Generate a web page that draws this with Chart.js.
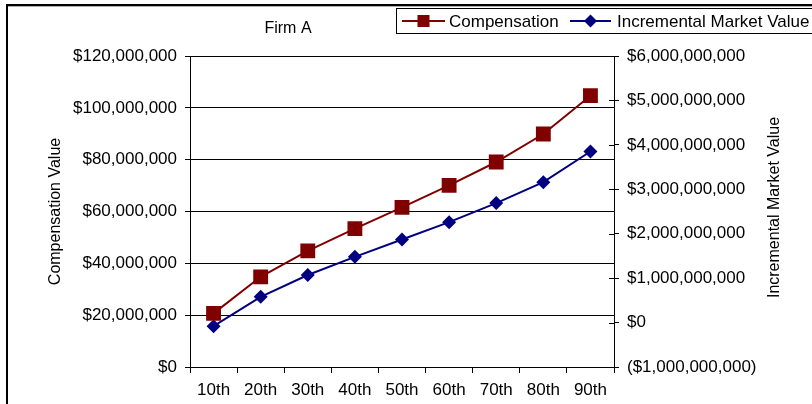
<!DOCTYPE html>
<html>
<head>
<meta charset="utf-8">
<script src="https://cdn.jsdelivr.net/npm/chart.js@4.4.1/dist/chart.umd.min.js"></script>
<style>
  html, body { margin: 0; padding: 0; background: #fff; }
  #wrap { width: 812px; height: 404px; position: relative; }
</style>
</head>
<body>
<div id="wrap"><canvas id="c" width="812" height="404"></canvas></div>
<script>
// Percentile buckets along the x axis
const percentiles = ['10th', '20th', '30th', '40th', '50th', '60th', '70th', '80th', '90th'];
// Compensation value (left axis, dollars)
const compensation = [20.7e6, 34.8e6, 44.8e6, 53.4e6, 61.6e6, 70.1e6, 79.1e6, 89.9e6, 104.7e6];
// Incremental market value (right axis, dollars)
const incrementalMarketValue = [-0.08e9, 0.58e9, 1.07e9, 1.48e9, 1.87e9, 2.26e9, 2.69e9, 3.16e9, 3.85e9];
// Axis tick values
const compensationTicks = [0, 20e6, 40e6, 60e6, 80e6, 100e6, 120e6];
const marketValueTicks = [-1e9, 0, 1e9, 2e9, 3e9, 4e9, 5e9, 6e9];

const FONT = 'Liberation Sans, Arial, sans-serif';
const RED = '#800000';
const NAVY = '#000080';

function money(v) {
  const s = '$' + Math.abs(v).toLocaleString('en-US');
  return v < 0 ? '(' + s + ')' : s;
}

function marker(ctx, style, x, y, r, color) {
  ctx.save();
  ctx.fillStyle = color;
  ctx.beginPath();
  if (style === 'rect') {
    const s = Math.SQRT1_2 * r;
    ctx.rect(x - s, y - s, 2 * s, 2 * s);
  } else {
    ctx.moveTo(x - r, y);
    ctx.lineTo(x, y - r);
    ctx.lineTo(x + r, y);
    ctx.lineTo(x, y + r);
    ctx.closePath();
  }
  ctx.fill();
  ctx.restore();
}

// Frame, title, legend box and axis titles
const decorations = {
  id: 'decorations',
  afterDraw(chart) {
    const ctx = chart.ctx;
    const area = chart.chartArea;
    ctx.save();

    // outer frame (top and left edges)
    ctx.strokeStyle = '#000';
    ctx.lineWidth = 2;
    ctx.beginPath();
    ctx.moveTo(7, 404);
    ctx.lineTo(7, 5);
    ctx.lineTo(812, 5);
    ctx.stroke();
    ctx.strokeStyle = '#b0b0b0';
    ctx.lineWidth = 1;
    ctx.beginPath();
    ctx.moveTo(8, 6.5);
    ctx.lineTo(812, 6.5);
    ctx.stroke();

    // title
    ctx.fillStyle = '#000';
    ctx.font = '16px ' + FONT;
    ctx.textAlign = 'center';
    ctx.textBaseline = 'middle';
    ctx.fillText('Firm A', 288, 29);

    // legend box
    ctx.strokeStyle = '#000';
    ctx.lineWidth = 1;
    ctx.strokeRect(396.5, 8.5, 440, 25);
    const legendItems = [
      { x0: 402, x1: 445, text: 449, style: 'rect', r: 8.5 },
      { x0: 570, x1: 611, text: 617, style: 'rectRot', r: 6.5 }
    ];
    ctx.font = '17px ' + FONT;
    ctx.textAlign = 'left';
    chart.data.datasets.forEach((ds, i) => {
      const it = legendItems[i];
      const y = 21;
      ctx.strokeStyle = ds.borderColor;
      ctx.lineWidth = 2;
      ctx.beginPath();
      ctx.moveTo(it.x0, y);
      ctx.lineTo(it.x1, y);
      ctx.stroke();
      marker(ctx, it.style, (it.x0 + it.x1) / 2, y, it.r, ds.borderColor);
      ctx.fillStyle = '#000';
      ctx.fillText(ds.label, it.text, y + 1);
    });

    // inward tick marks on the right axis
    const y2 = chart.scales.y2;
    ctx.strokeStyle = '#000';
    ctx.lineWidth = 1;
    y2.ticks.forEach(t => {
      const py = Math.round(y2.getPixelForValue(t.value)) + 0.5;
      ctx.beginPath();
      ctx.moveTo(area.right - 5, py);
      ctx.lineTo(area.right, py);
      ctx.stroke();
    });

    // axis titles
    ctx.fillStyle = '#000';
    ctx.font = '16px ' + FONT;
    ctx.textAlign = 'center';
    ctx.textBaseline = 'middle';
    const midY = (area.top + area.bottom) / 2;
    ctx.save();
    ctx.translate(56, midY);
    ctx.rotate(-Math.PI / 2);
    ctx.fillText('Compensation Value', 0, 0);
    ctx.restore();
    ctx.save();
    ctx.translate(775, midY - 4);
    ctx.rotate(-Math.PI / 2);
    ctx.fillText('Incremental Market Value', 0, 0);
    ctx.restore();

    ctx.restore();
  }
};

new Chart(document.getElementById('c'), {
  type: 'line',
  data: {
    labels: percentiles,
    datasets: [
      {
        label: 'Compensation',
        data: compensation,
        yAxisID: 'y',
        borderColor: RED,
        backgroundColor: RED,
        borderWidth: 2,
        pointStyle: 'rect',
        pointRadius: 10.5,
        pointBorderWidth: 0,
        pointBackgroundColor: RED,
        tension: 0
      },
      {
        label: 'Incremental Market Value',
        data: incrementalMarketValue,
        yAxisID: 'y2',
        borderColor: NAVY,
        backgroundColor: NAVY,
        borderWidth: 2,
        pointStyle: 'rectRot',
        pointRadius: 7,
        pointBorderWidth: 0,
        pointBackgroundColor: NAVY,
        tension: 0
      }
    ]
  },
  options: {
    responsive: false,
    animation: false,
    devicePixelRatio: 1,
    layout: { padding: { top: 56, left: 0, right: 0, bottom: 0 } },
    plugins: {
      legend: { display: false },
      title: { display: false },
      tooltip: { enabled: false }
    },
    scales: {
      x: {
        type: 'category',
        offset: true,
        afterFit(scale) { scale.height = 37; },
        grid: {
          offset: true,
          drawOnChartArea: false,
          drawTicks: true,
          tickLength: 6,
          color: '#000',
          lineWidth: 1
        },
        border: { color: '#000', width: 1 },
        ticks: {
          color: '#000',
          font: { family: FONT, size: 17 },
          padding: 7,
          maxRotation: 0,
          autoSkip: false
        }
      },
      y: {
        position: 'left',
        min: 0,
        max: 120e6,
        afterFit(scale) { scale.width = 190; },
        afterBuildTicks(scale) { scale.ticks = compensationTicks.map(v => ({ value: v })); },
        grid: { color: '#000', lineWidth: 1, tickLength: 5 },
        border: { color: '#000', width: 1 },
        ticks: {
          color: '#000',
          font: { family: FONT, size: 17 },
          padding: 8,
          callback: v => money(v)
        }
      },
      y2: {
        position: 'right',
        min: -1e9,
        max: 6e9,
        afterFit(scale) { scale.width = 198; },
        afterBuildTicks(scale) { scale.ticks = marketValueTicks.map(v => ({ value: v })); },
        grid: { drawOnChartArea: false, color: '#000', lineWidth: 1, tickLength: 5 },
        border: { color: '#000', width: 1 },
        ticks: {
          color: '#000',
          font: { family: FONT, size: 17 },
          padding: 8,
          callback: v => money(v)
        }
      }
    }
  },
  plugins: [decorations]
});
</script>
</body>
</html>
